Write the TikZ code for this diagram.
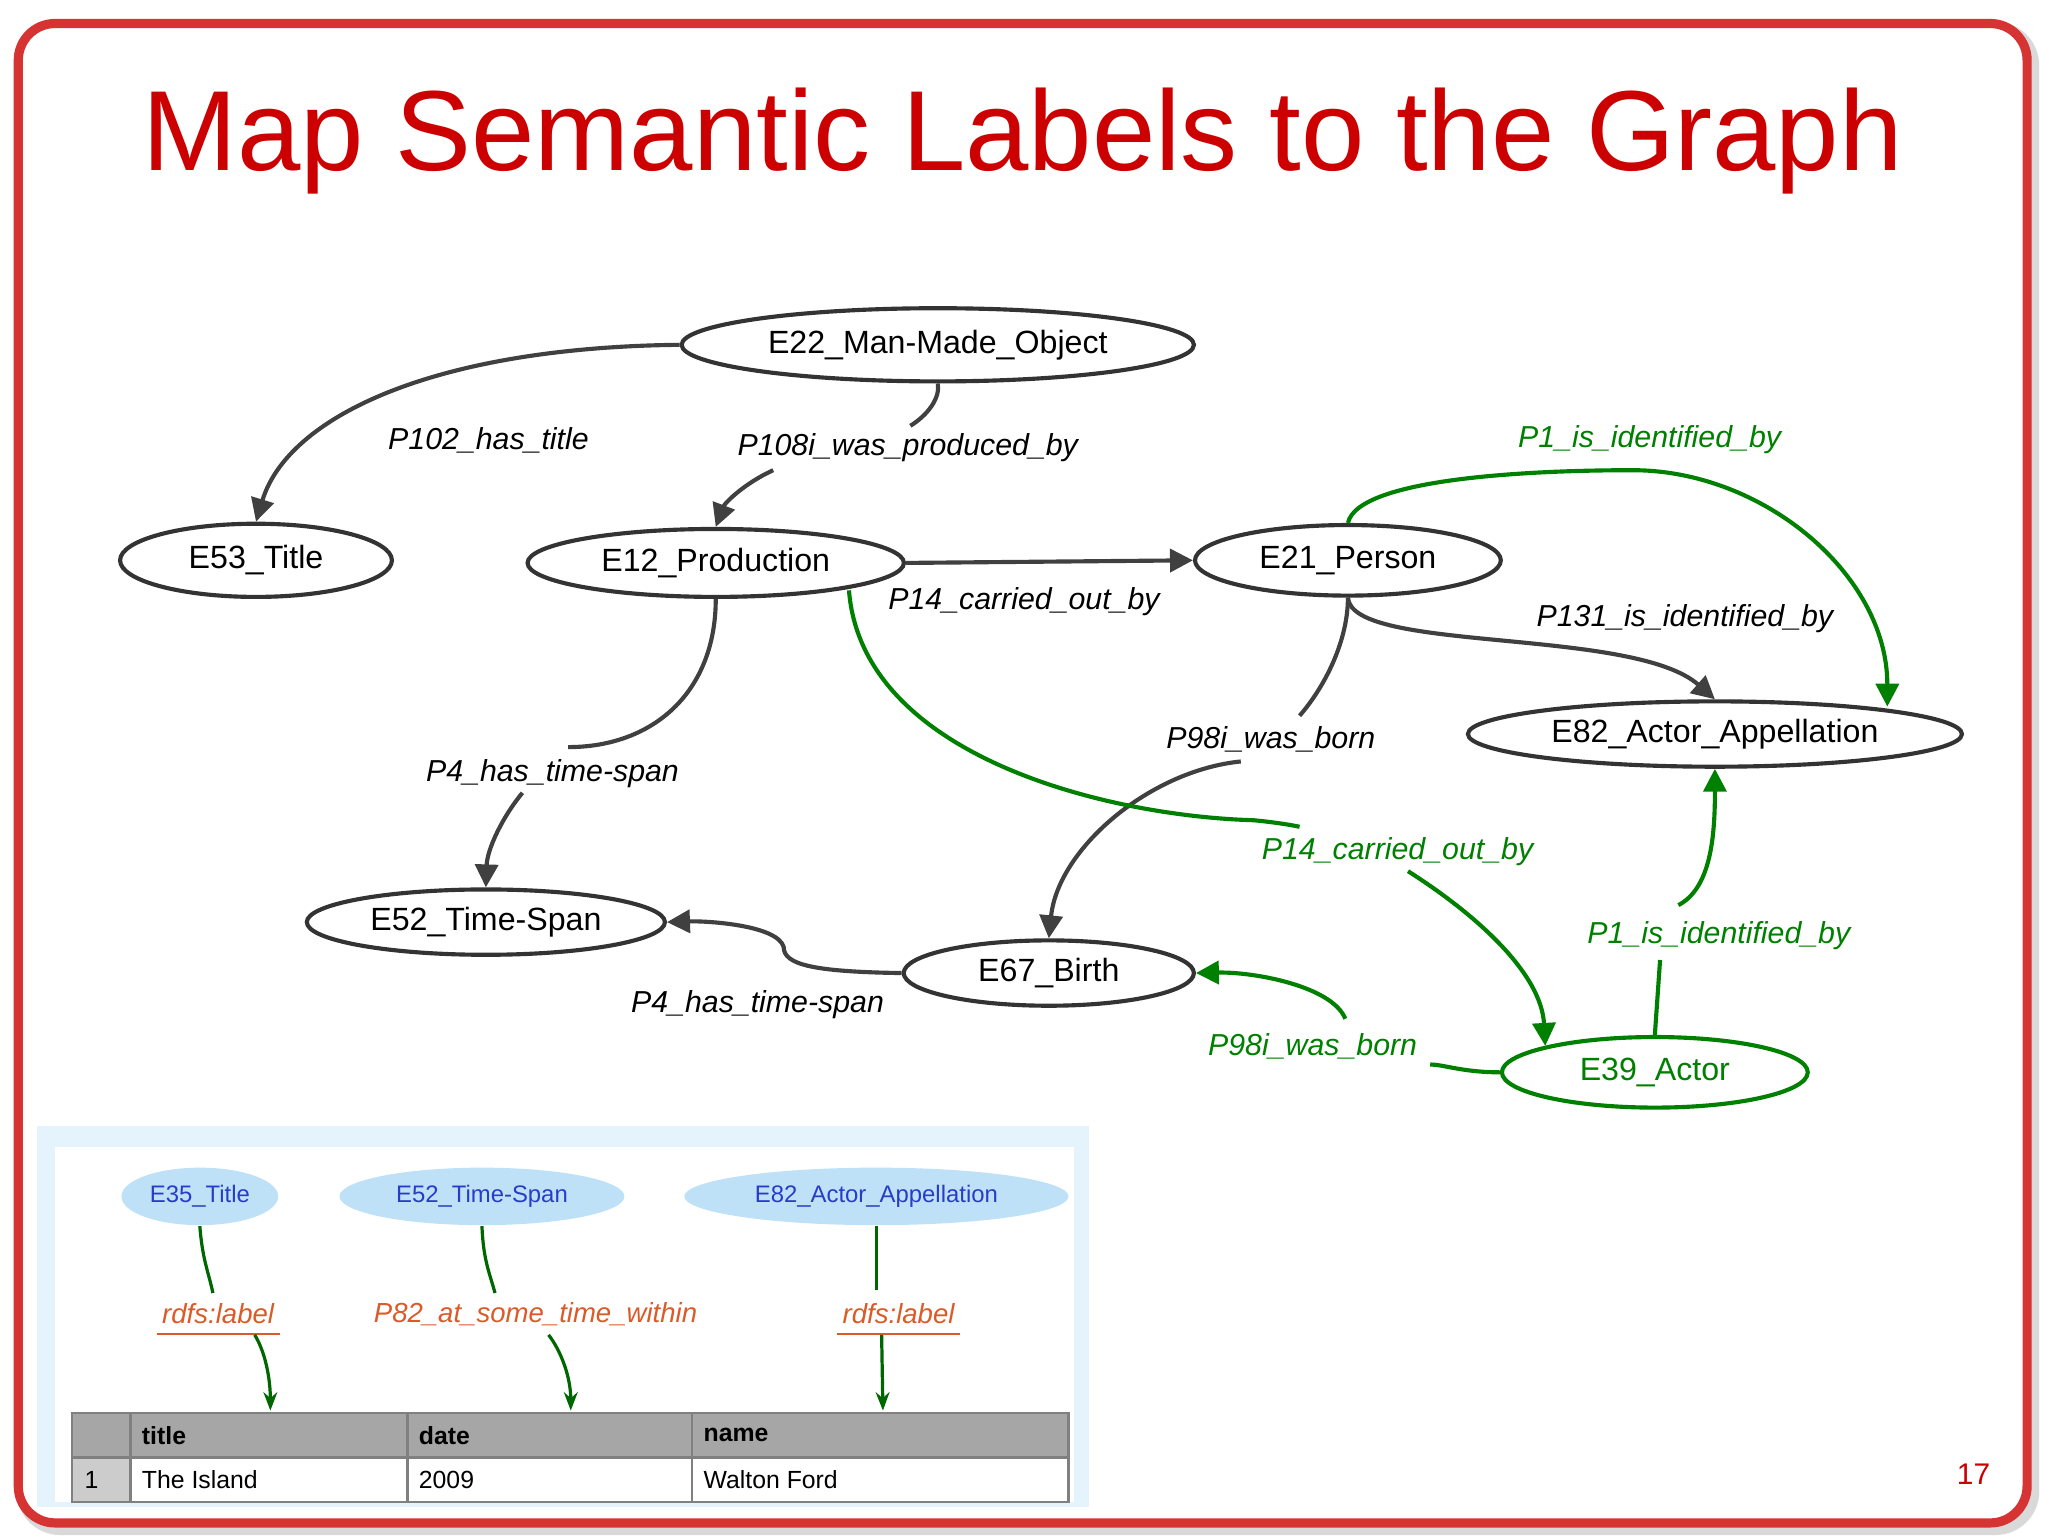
\documentclass[tikz,border=0pt]{standalone}
\usepackage{fontspec}
\setmainfont{Liberation Sans}
\usetikzlibrary{shapes.geometric,arrows.meta}
\definecolor{slred}{RGB}{204,0,0}
\definecolor{ggreen}{RGB}{0,128,0}
\definecolor{lblue}{RGB}{190,225,248}
\definecolor{eblue}{RGB}{40,60,200}
\definecolor{lorange}{RGB}{220,90,40}
\tikzset{
 ent/.style={ellipse,draw=black!80,line width=0.9pt,fill=white,inner sep=0pt,font=\fontsize{7}{8}\selectfont},
 gent/.style={ent,draw=ggreen,text=ggreen},
 lab/.style={font=\fontsize{6.6}{8}\selectfont\itshape,inner sep=1pt},
 glab/.style={lab,text=ggreen},
 edge/.style={draw=black!75,line width=0.9pt,-{Triangle[length=5pt,width=5pt]}},
 plain/.style={draw=black!75,line width=0.9pt},
 gedge/.style={draw=ggreen,line width=0.9pt,-{Triangle[length=5pt,width=5pt]}},
 gplain/.style={draw=ggreen,line width=0.9pt},
 pell/.style={ellipse,fill=lblue,inner sep=0pt,text=eblue,font=\fontsize{5.2}{6}\selectfont},
 plab/.style={text=lorange,font=\fontsize{6}{7}\selectfont\itshape,inner sep=1pt},
 parr/.style={draw=ggreen!80!black,line width=0.7pt,-{Stealth[length=4pt]}},
 tcell/.style={font=\fontsize{5.4}{6}\selectfont,anchor=west,inner sep=0pt}
}
\begin{document}
\begin{tikzpicture}[x=0.01cm,y=-0.01cm]
\useasboundingbox (0,0) rectangle (1568,1176);
\fill[white] (0,0) rectangle (1568,1176);
\draw[black!15,line width=3pt,rounded corners=8pt] (18,22) rectangle (1556,1170);
\draw[slred!80,line width=2pt,rounded corners=8pt,fill=white] (14,18) rectangle (1552,1166);
\node[text=slred,font=\fontsize{24.8}{28}\selectfont] (title) at (783,108) {Map Semantic Labels to the Graph};
\node[text=slred,font=\fontsize{6.5}{7}\selectfont] (pg) at (1511,1129) {17};

% nodes
\node[ent,minimum width=3.92cm,minimum height=0.56cm] (e22) at (718,264) {E22\_Man-Made\_Object};
\node[ent,minimum width=2.08cm,minimum height=0.56cm] (e53) at (196,429) {E53\_Title};
\node[ent,minimum width=2.88cm,minimum height=0.52cm] (e12) at (548,431) {E12\_Production};
\node[ent,minimum width=2.34cm,minimum height=0.54cm] (e21) at (1032,429) {E21\_Person};
\node[ent,minimum width=3.78cm,minimum height=0.5cm] (e82) at (1313,562) {E82\_Actor\_Appellation};
\node[ent,minimum width=2.74cm,minimum height=0.5cm] (e52) at (372,706) {E52\_Time-Span};
\node[ent,minimum width=2.22cm,minimum height=0.5cm] (e67) at (803,745) {E67\_Birth};
\node[gent,minimum width=2.34cm,minimum height=0.54cm] (e39) at (1267,821) {E39\_Actor};

% labels
\node[lab] (l1) at (374,337) {P102\_has\_title};
\node[lab] (l2) at (695,343) {P108i\_was\_produced\_by};
\node[lab] (l3) at (784,461) {P14\_carried\_out\_by};
\node[lab] (l4) at (423,592) {P4\_has\_time-span};
\node[lab] (l5) at (1290,474) {P131\_is\_identified\_by};
\node[lab] (l6) at (973,566) {P98i\_was\_born};
\node[lab] (l7) at (580,769) {P4\_has\_time-span};
\node[glab] (g1) at (1263,337) {P1\_is\_identified\_by};
\node[glab] (g2) at (1070,652) {P14\_carried\_out\_by};
\node[glab] (g3) at (1316,716) {P1\_is\_identified\_by};
\node[glab] (g4) at (1005,801) {P98i\_was\_born};

% black edges
\draw[edge] (e22.west) .. controls (330,266) and (220,320) .. (e53.north);
\draw[plain] (e22.south) .. controls (720,305) and (710,318) .. (697,326);
\draw[edge] (592,360) .. controls (570,370) and (555,385) .. (e12.north);
\draw[edge] (e12.east) -- (e21.west);
\draw[plain] (e12.south) .. controls (548,530) and (500,572) .. (435,572);
\draw[edge] (400,607) .. controls (385,625) and (373,650) .. (e52.north);
\draw[edge] (e21.south) .. controls (1035,500) and (1250,480) .. (e82.north);
\draw[plain] (e21.south) .. controls (1032,490) and (1015,525) .. (995,548);
\draw[edge] (950,583) .. controls (880,590) and (810,650) .. (e67.north);
\draw[edge] (e67.west) .. controls (620,744) and (600,738) .. (600,725) .. controls (595,708) and (540,705) .. (e52.east);

% green edges
\draw[gedge] (e21.north) .. controls (1040,365) and (1180,360) .. (1250,360) .. controls (1350,360) and (1445,440) .. (1445,541);
\draw[gplain] (650,452) .. controls (660,580) and (850,625) .. (960,628) .. controls (980,630) and (990,632) .. (995,633);
\draw[gedge] (1078,667) .. controls (1130,700) and (1180,745) .. (e39.north west);
\draw[gplain] (e39.north) -- (1271,735);
\draw[gedge] (1285,693) .. controls (1310,680) and (1313,640) .. (e82.south);
\draw[gplain] (e39.west) .. controls (1120,821) and (1105,815) .. (1095,815);
\draw[gedge] (1030,780) .. controls (1020,755) and (960,744) .. (e67.east);

% bottom panel
\fill[lblue!40] (28,862) rectangle (834,1154);
\fill[white] (42,878) rectangle (822,1150);
\node[pell,minimum width=1.2cm,minimum height=0.44cm] (p1) at (153,916) {E35\_Title};
\node[pell,minimum width=2.18cm,minimum height=0.44cm] (p2) at (369,916) {E52\_Time-Span};
\node[pell,minimum width=2.94cm,minimum height=0.44cm] (p3) at (671,916) {E82\_Actor\_Appellation};
\node[plab] (r1) at (167,1006) {rdfs:label};
\node[plab] (r2) at (410,1006) {P82\_at\_some\_time\_within};
\node[plab] (r3) at (688,1006) {rdfs:label};
\draw[lorange] ([yshift=-1pt]r1.south west) -- ([yshift=-1pt]r1.south east);
\draw[lorange] ([yshift=-1pt]r3.south west) -- ([yshift=-1pt]r3.south east);
\draw[ggreen!80!black,line width=0.7pt] (p1.south) .. controls (155,965) and (160,975) .. (163,990);
\draw[ggreen!80!black,line width=0.7pt] (p2.south) .. controls (370,965) and (375,975) .. (379,990);
\draw[ggreen!80!black,line width=0.7pt] (p3.south) -- (671,988);
\coordinate (t1) at (207,1080);
\coordinate (t2) at (437,1080);
\coordinate (t3) at (676,1080);
\draw[parr] (195,1022) .. controls (203,1035) and (207,1055) .. (t1);
\draw[parr] (420,1022) .. controls (430,1035) and (437,1055) .. (t2);
\draw[parr] (675,1022) -- (t3);
% table
\fill[black!35] (55,1082) rectangle (818,1116);
\fill[black!20] (55,1116) rectangle (100,1150);
\draw[black!50,line width=0.5pt] (55,1082) rectangle (818,1150) (55,1116) -- (818,1116)
 (100,1082) -- (100,1150) (312,1082) -- (312,1150) (530,1082) -- (530,1150);
\node[tcell,font=\fontsize{5.4}{6}\selectfont\bfseries] (h1) at (108,1099) {title};
\node[tcell,font=\fontsize{5.4}{6}\selectfont\bfseries] (h2) at (320,1099) {date};
\node[tcell,font=\fontsize{5.4}{6}\selectfont\bfseries] (h3) at (538,1099) {name};
\node[tcell] (c0) at (64,1133) {1};
\node[tcell] (c1) at (108,1133) {The Island};
\node[tcell] (c2) at (320,1133) {2009};
\node[tcell] (c3) at (538,1133) {Walton Ford};
\end{tikzpicture}
\end{document}
